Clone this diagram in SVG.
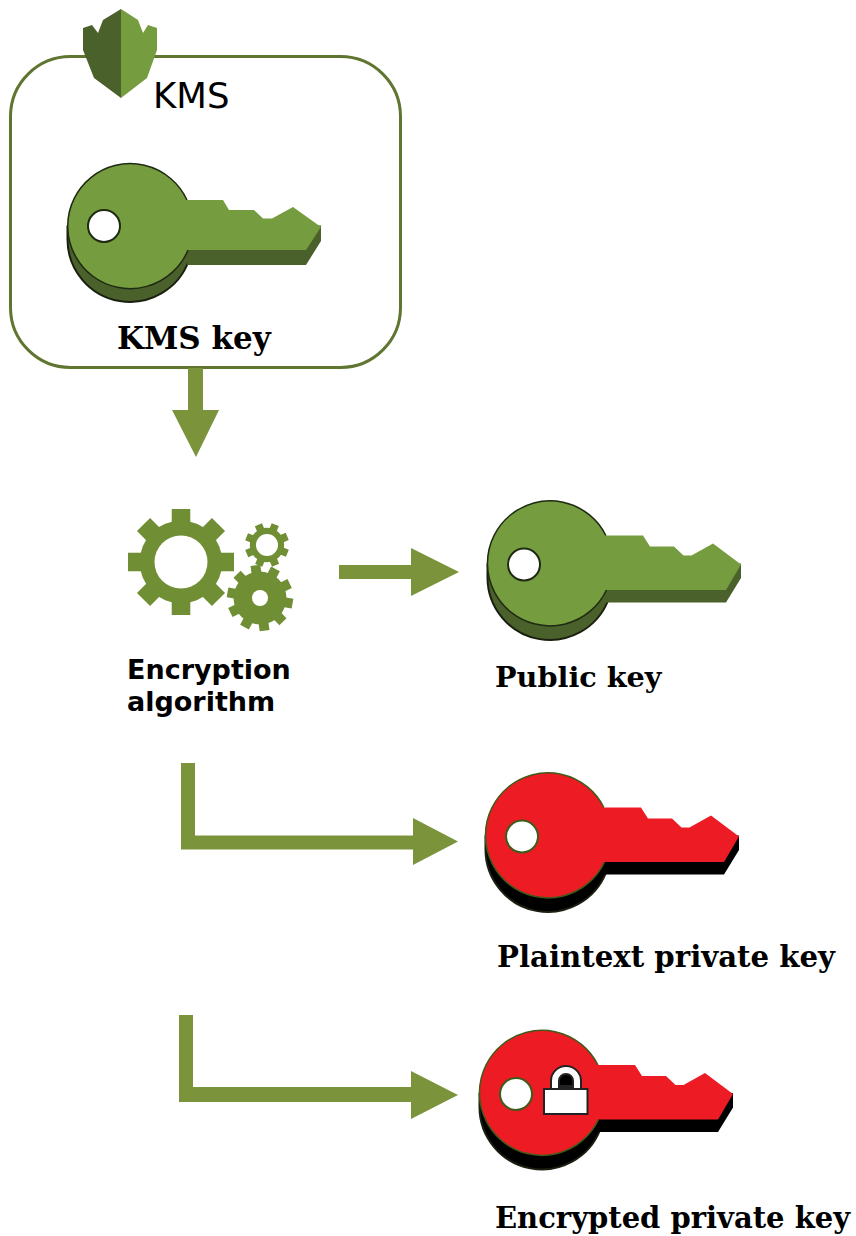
<svg xmlns="http://www.w3.org/2000/svg" width="856" height="1236" viewBox="0 0 856 1236">
<style>
.label{font-family:"DejaVu Serif",serif;font-weight:700;font-size:29px;fill:#000}
.sans{font-family:"DejaVu Sans",sans-serif;font-weight:700;font-size:27px;fill:#000}
.arrow{fill:#7b943c}
.g{fill:#6f8f35}
.green{--face:#759c3e;--side:#4b612c;--edge:#1f2a12;--edge-w:1.500}
.red{--face:#ed1c24;--side:#000;--edge:#3f5a1a;--edge-w:1.500}
.face{fill:var(--face);stroke:none}
.side{fill:var(--side);stroke:none}
.line{fill:none;stroke:#1a2010;stroke-width:2}
.rim{fill:none;stroke:var(--edge);stroke-width:var(--edge-w)}
.hole{fill:#fff;stroke:var(--edge);stroke-width:2}
</style>
<defs>
<filter id="soft" x="-5%" y="-5%" width="110%" height="110%"><feGaussianBlur stdDeviation="0.700"/></filter>
<g id="key-narrow">
<circle class="side" cx="0" cy="14" r="62.500"/>
<path class="line" d="M-62.500 0V14A62.500 62.500 0 0 0 59 34.500"/>
<path class="side" d="M57 0H191V15.500L176 39.500H57Z"/>
<path class="face" d="M57-25.500H93L99-15.500H124L133-7H142L163-18.500L191 1.500L176 24.500H58A62.500 62.500 0 1 1 57-25.500Z"/>
<path class="rim" d="M58 24.500A62.500 62.500 0 1 1 57-25.500"/>
<circle class="hole" cx="-26" cy="0.500" r="16"/>
</g>
<g id="key-wide">
<circle class="side" cx="0" cy="14" r="62.500"/>
<path class="line" d="M-62.500 0V14A62.500 62.500 0 0 0 58.100 37"/>
<path class="side" d="M56 0H191V14.500L176 39H56Z"/>
<path class="face" d="M55.900-28H93L100-17H124L133.500-8H141.500L163-20L191 1L176 26.500H56.500A62.500 62.500 0 1 1 55.900-28Z"/>
<path class="rim" d="M56.500 26.500A62.500 62.500 0 1 1 55.900-28"/>
<circle class="hole" cx="-26" cy="1" r="16"/>
</g>
<g id="teeth8">
<rect x="-1" y="-0.175" width="2" height="0.350"/>
<rect x="-1" y="-0.175" width="2" height="0.350" transform="rotate(45)"/>
<rect x="-1" y="-0.175" width="2" height="0.350" transform="rotate(90)"/>
<rect x="-1" y="-0.175" width="2" height="0.350" transform="rotate(135)"/>
<circle r="0.780"/>
</g>
<g id="teeth10">
<rect x="-1" y="-0.150" width="2" height="0.300"/>
<rect x="-1" y="-0.150" width="2" height="0.300" transform="rotate(36)"/>
<rect x="-1" y="-0.150" width="2" height="0.300" transform="rotate(72)"/>
<rect x="-1" y="-0.150" width="2" height="0.300" transform="rotate(108)"/>
<rect x="-1" y="-0.150" width="2" height="0.300" transform="rotate(144)"/>
<circle r="0.800"/>
</g>
</defs>
<g id="kms-container">
<rect x="10.500" y="56.500" width="390" height="311" rx="60" ry="60" fill="#fff" stroke="#5f7530" stroke-width="3"/>
<path d="M121 9L103 20L98 33L92 25L83 28V50L94 78L121 98Z" fill="#4b612c"/>
<path d="M121 9L138 20L143 33L148 25L157 28V50L147 78L121 98Z" fill="#759c3e"/>
<text x="153" y="108" font-family="'DejaVu Sans',sans-serif" font-size="35.500" fill="#000">KMS</text>
</g>
<g id="kms-key">
<use href="#key-narrow" class="green" x="130" y="225.500"/>
<text class="label" x="117" y="349" style="font-size:31px">KMS key</text>
</g>
<g id="encryption-algorithm">
<g class="g" filter="url(#soft)">
<use href="#teeth8" transform="translate(181 562) scale(53)"/>
<circle cx="181" cy="562" r="26.500" fill="#fff"/>
<use href="#teeth8" transform="translate(267 545) rotate(22) scale(22)"/>
<circle cx="267" cy="545" r="11" fill="#fff"/>
<use href="#teeth10" transform="translate(260 598) rotate(10) scale(33)"/>
<circle cx="260" cy="598" r="8" fill="#fff"/>
</g>
<text class="sans" x="127" y="679">Encryption</text>
<text class="sans" x="127" y="711">algorithm</text>
</g>
<g id="public-key">
<use href="#key-wide" class="green" x="550" y="563.500"/>
<text class="label" x="495" y="687" style="font-size:28.700px">Public key</text>
</g>
<g id="plaintext-private-key">
<use href="#key-wide" class="red" x="548" y="835.500"/>
<text class="label" x="497" y="967" style="font-size:29.200px">Plaintext private key</text>
</g>
<g id="encrypted-private-key">
<use href="#key-wide" class="red" x="542" y="1093"/>
<path d="M555 1090V1081A11 11 0 0 1 577 1081V1090Z" fill="#000" stroke="#222" stroke-width="10"/>
<path d="M555 1090V1081A11 11 0 0 1 577 1081V1090" fill="none" stroke="#fff" stroke-width="6"/>
<rect x="544" y="1089" width="43.500" height="25" fill="#fff" stroke="#222" stroke-width="2"/>
<text class="label" x="495" y="1228">Encrypted private key</text>
</g>
<g id="connectors">
<path class="arrow" d="M188 368H203V410H219L196 457L172 410H188Z"/>
<path class="arrow" d="M339 565H411V548L459 572L411 596V579H339Z"/>
<path class="arrow" d="M181 763H195V835.500H413V818L458 841.500L413 865V849.500H181Z"/>
<path class="arrow" d="M179 1015H193V1087H411V1071L458 1095L411 1119V1102H179Z"/>
</g>
</svg>
